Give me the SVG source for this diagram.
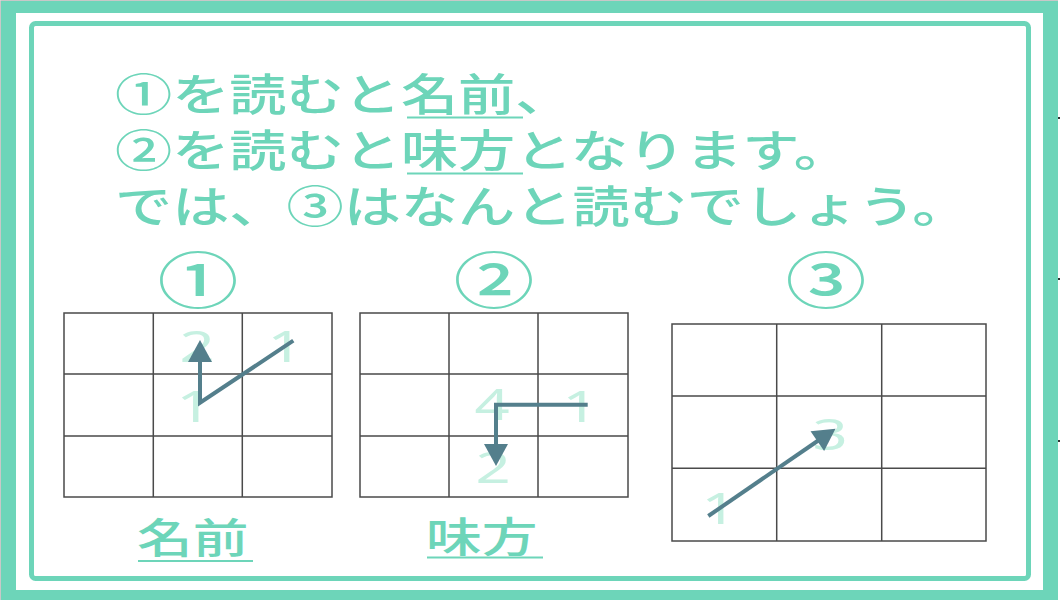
<svg xmlns="http://www.w3.org/2000/svg" width="1060" height="600" viewBox="0 0 1060 600">
<defs>
<style>
.jp{font-family:"Noto Sans CJK JP","Noto Sans",sans-serif;fill:#6dd5b9;font-weight:500;}
.grid{fill:none;stroke:#4a4a4a;stroke-width:1.5;}
.dg{font-family:"Noto Sans","DejaVu Sans",sans-serif;font-size:44px;fill:#c6f0e1;text-anchor:middle;}
.ul{stroke:#6dd5b9;stroke-width:2;}
.arr{fill:none;stroke:#547f8c;stroke-width:4;stroke-linejoin:miter;}
</style>
<marker id="ah" markerUnits="userSpaceOnUse" markerWidth="24" markerHeight="24" viewBox="0 0 22 24" refX="2" refY="12" orient="auto">
<path d="M0,0 L22,12 L0,24 Z" fill="#547f8c"/>
</marker>
</defs>
<rect width="1060" height="600" fill="#fff"/>
<g id="frame">
<path d="M1,1 H1058 V600 H1 Z M16,13 V590 H1043 V13 Z" fill="#6dd5b9" fill-rule="evenodd"/>
<path d="M0.5,600 V0.5 H1058" fill="none" stroke="#c8c8c8" stroke-width="1"/>
<rect x="31.5" y="23.5" width="997" height="555" rx="4" fill="none" stroke="#6dd5b9" stroke-width="5"/>
<g fill="#333"><rect x="1058" y="117" width="2" height="2"/><rect x="1058" y="278" width="2" height="2"/><rect x="1058" y="440" width="2" height="2"/></g>
</g>
<g id="question">
<text class="jp" font-size="44" transform="translate(115,111) scale(1.3,1)"><tspan x="0" y="0">①を読むと名前、</tspan><tspan x="0" y="56">②を読むと味方となります。</tspan><tspan x="0" y="112">では、③はなんと読むでしょう。</tspan></text>
<line class="ul" x1="407" y1="117.5" x2="523" y2="117.5"/>
<line class="ul" x1="407" y1="173.5" x2="523" y2="173.5"/>
</g>
<g id="grid1">
<text class="jp" font-size="60" text-anchor="middle" transform="translate(198,303) scale(1.35,1)">①</text>
<rect class="grid" x="64" y="313" width="268" height="184"/>
<path class="grid" d="M153.3,313 V497 M242.3,313 V497 M64,374 H332 M64,436 H332"/>
<text class="dg" transform="translate(197,362) scale(1.4,1)">2</text>
<text class="dg" transform="translate(285,362) scale(1.4,1)">1</text>
<text class="dg" transform="translate(194,422) scale(1.4,1)">1</text>
<text class="jp" font-size="41" transform="translate(137,553) scale(1.36,1)">名前</text>
<line class="ul" x1="138" y1="561" x2="253" y2="561"/>
</g>
<g id="grid2">
<text class="jp" font-size="60" text-anchor="middle" transform="translate(494,303) scale(1.35,1)">②</text>
<rect class="grid" x="360" y="313" width="268" height="184"/>
<path class="grid" d="M449,313 V497 M538,313 V497 M360,374 H628 M360,436 H628"/>
<text class="dg" transform="translate(492,420) scale(1.4,1)">4</text>
<text class="dg" transform="translate(580,422) scale(1.4,1)">1</text>
<text class="dg" transform="translate(493,483) scale(1.4,1)">2</text>
<text class="jp" font-size="41" transform="translate(426,552) scale(1.36,1)">味方</text>
<line class="ul" x1="427" y1="557.5" x2="543" y2="557.5"/>
</g>
<g id="grid3">
<text class="jp" font-size="60" text-anchor="middle" transform="translate(826,303) scale(1.35,1)">③</text>
<rect class="grid" x="672" y="324" width="314" height="217"/>
<path class="grid" d="M776.7,324 V541 M881.7,324 V541 M672,396 H986 M672,468.3 H986"/>
<text class="dg" transform="translate(719,524) scale(1.4,1)">1</text>
<text class="dg" transform="translate(830,450) scale(1.4,1)">3</text>
</g>
<g id="connectors">
<path class="arr" d="M293.3,340.7 L200,402.7 V360" marker-end="url(#ah)"/>
<path class="arr" d="M587.7,404.7 H496 V446" marker-end="url(#ah)"/>
<path class="arr" d="M708.3,516 L819,440" marker-end="url(#ah)"/>
</g>
</svg>
